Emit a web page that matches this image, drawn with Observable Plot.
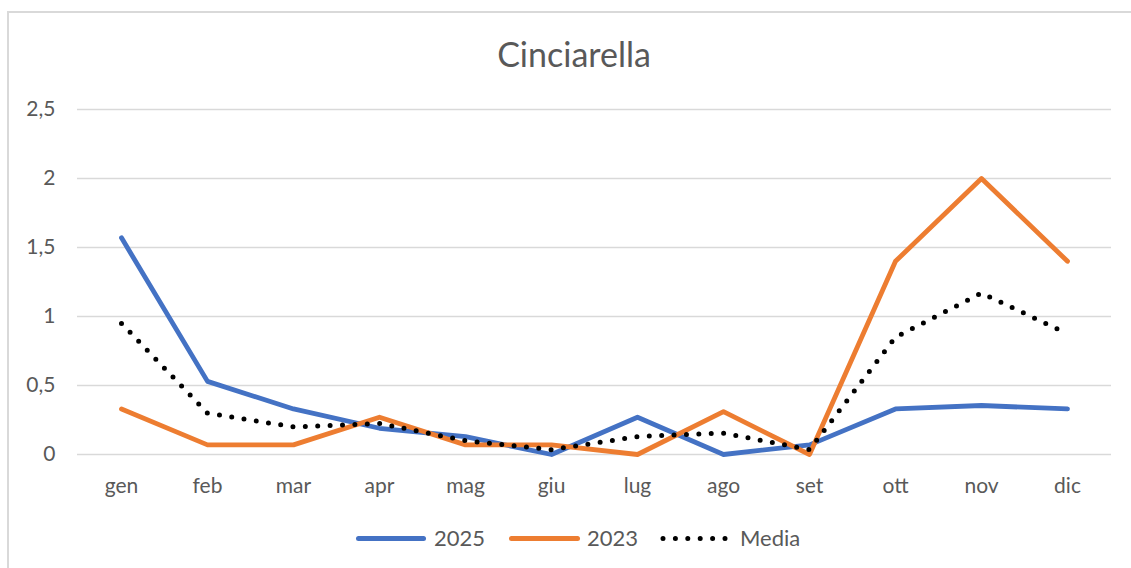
<!DOCTYPE html>
<html>
<head>
<meta charset="utf-8">
<script src="https://cdn.jsdelivr.net/npm/d3@7"></script>
<script src="https://cdn.jsdelivr.net/npm/@observablehq/plot@0.6"></script>
<style>
  html, body { margin: 0; padding: 0; background: #fff; overflow: hidden; }
  #wrap { position: relative; width: 1131px; height: 568px; overflow: hidden; font-family: Lato, "Open Sans", sans-serif; color: #595959; }
  #frame { position: absolute; left: 7px; top: 11px; width: 1300px; height: 700px; border: 2px solid #d9d9d9; box-sizing: border-box; }
  #title { position: absolute; left: 0; width: 1148px; top: 33px; text-align: center; font-size: 34px; line-height: 42px; color: #595959; }
  #chart { position: absolute; left: 0; top: 0; }
  #chart svg text { font-size: 21px !important; }
  #legend { position: absolute; left: 0; top: 524px; width: 1131px; height: 28px; }
  .item { position: absolute; top: 0; font-size: 22px; line-height: 28px; color: #595959; }
  .sw { position: absolute; top: 12px; height: 5px; border-radius: 3px; }
</style>
</head>
<body>
<div id="wrap">
  <div id="frame"></div>
  <div id="title">Cinciarella</div>
  <div id="chart"></div>
  <div id="legend"></div>
</div>
<script>
const months = ["gen","feb","mar","apr","mag","giu","lug","ago","set","ott","nov","dic"];
const values2025 = [1.57, 0.53, 0.33, 0.19, 0.13, 0.0, 0.27, 0.0, 0.07, 0.33, 0.355, 0.33];
const values2023 = [0.33, 0.07, 0.07, 0.27, 0.07, 0.07, 0.0, 0.31, 0.0, 1.40, 2.0, 1.40];
const valuesMedia = [0.95, 0.30, 0.20, 0.225, 0.10, 0.035, 0.13, 0.155, 0.035, 0.85, 1.17, 0.875];
const seriesNames = ["2025", "2023", "Media"];
const seriesColors = ["#4472C4", "#ED7D31", "#000000"];
const yTicks = [0, 0.5, 1, 1.5, 2, 2.5];

const d2025 = months.map((m, i) => ({month: m, value: values2025[i]}));
const d2023 = months.map((m, i) => ({month: m, value: values2023[i]}));
const dMedia = months.map((m, i) => ({month: m, value: valuesMedia[i]}));

const fmt = d => String(d).replace(".", ",");

const chart = Plot.plot({
  width: 1131,
  height: 568,
  marginTop: 109,
  marginBottom: 114,
  marginLeft: 77,
  marginRight: 20,
  style: {fontFamily: "Lato, 'Open Sans', sans-serif", fontSize: "21px", color: "#595959", background: "transparent"},
  x: {type: "point", domain: months, padding: 0.5, label: null},
  y: {domain: [0, 2.5], label: null},
  marks: [
    Plot.ruleY(yTicks, {stroke: "#d9d9d9", strokeWidth: 1.5, strokeOpacity: 1}),
    Plot.axisY(yTicks, {tickSize: 0, tickPadding: 22, tickFormat: fmt, fill: "#595959", label: null}),
    Plot.axisX({tickSize: 0, tickPadding: 24, fill: "#595959", label: null}),
    Plot.line(d2025, {x: "month", y: "value", stroke: seriesColors[0], strokeWidth: 4.8, strokeLinejoin: "round", strokeLinecap: "round"}),
    Plot.line(d2023, {x: "month", y: "value", stroke: seriesColors[1], strokeWidth: 4.8, strokeLinejoin: "round", strokeLinecap: "round"}),
    Plot.line(dMedia, {x: "month", y: "value", stroke: seriesColors[2], strokeWidth: 5, strokeDasharray: "0 12.4", strokeLinecap: "round", strokeLinejoin: "round"})
  ]
});
document.getElementById("chart").appendChild(chart);

// legend
const legend = document.getElementById("legend");
const legendPos = [
  {sx: 356, sw: 70, tx: 434},
  {sx: 509, sw: 71, tx: 587},
  {sx: 663, sw: 68, tx: 740}
];
seriesNames.forEach((name, i) => {
  const p = legendPos[i];
  if (i < 2) {
    const s = document.createElement("div");
    s.className = "sw";
    s.style.left = p.sx + "px";
    s.style.width = p.sw + "px";
    s.style.background = seriesColors[i];
    legend.appendChild(s);
  } else {
    const svgNS = "http://www.w3.org/2000/svg";
    const svg = document.createElementNS(svgNS, "svg");
    svg.setAttribute("width", p.sw + 6);
    svg.setAttribute("height", 28);
    svg.style.position = "absolute";
    svg.style.left = (p.sx - 3) + "px";
    svg.style.top = "0px";
    const ln = document.createElementNS(svgNS, "line");
    ln.setAttribute("x1", 3); ln.setAttribute("x2", p.sw + 3);
    ln.setAttribute("y1", 14.5); ln.setAttribute("y2", 14.5);
    ln.setAttribute("stroke", "#000");
    ln.setAttribute("stroke-width", 5);
    ln.setAttribute("stroke-linecap", "round");
    ln.setAttribute("stroke-dasharray", "0 12.4");
    svg.appendChild(ln);
    legend.appendChild(svg);
  }
  const t = document.createElement("div");
  t.className = "item";
  t.style.left = p.tx + "px";
  t.textContent = name;
  legend.appendChild(t);
});
</script>
</body>
</html>
